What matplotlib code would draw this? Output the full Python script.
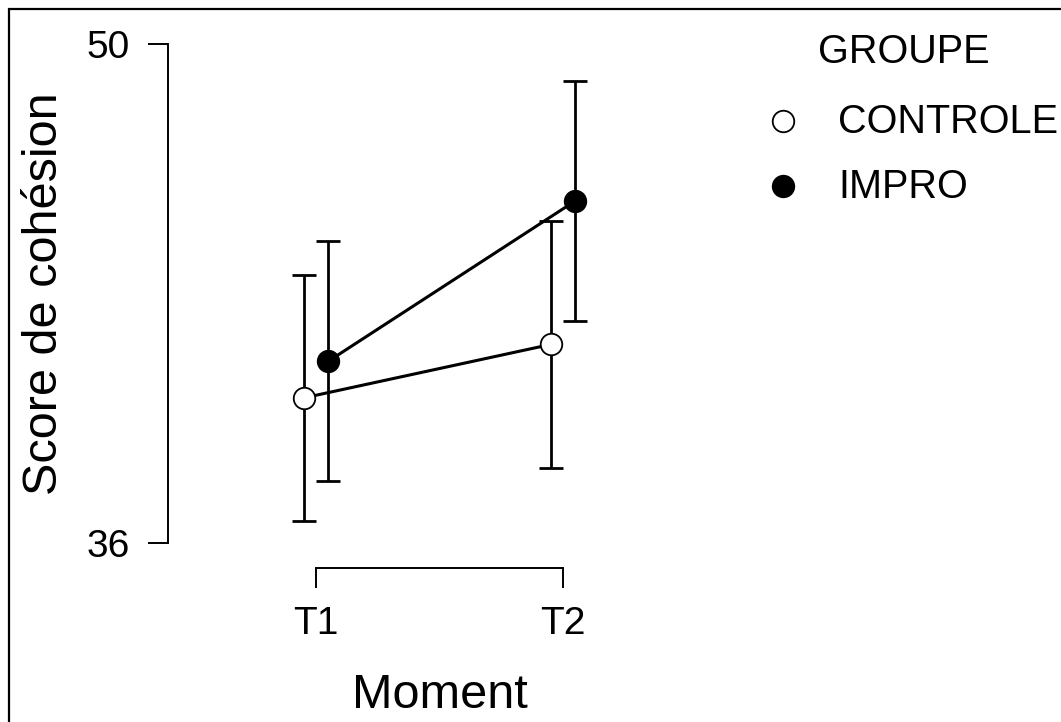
import matplotlib.pyplot as plt
from matplotlib.patches import Rectangle
from matplotlib.lines import Line2D

plt.rcParams["font.family"] = ["Liberation Sans", "DejaVu Sans"]

moments = ["T1", "T2"]
groups = ["CONTROLE", "IMPRO"]
means = {
    "CONTROLE": [40.07, 41.57],
    "IMPRO": [41.10, 45.60],
}
errors = {
    "CONTROLE": [3.46, 3.47],
    "IMPRO": [3.36, 3.37],
}
faces = {"CONTROLE": "white", "IMPRO": "black"}
dodge = {"CONTROLE": -0.05, "IMPRO": 0.05}

W, H = 1061, 722
fig = plt.figure(figsize=(W / 100, H / 100), dpi=100)

# axes box in pixels (left, top, right, bottom)
left, top, right, bottom = 168, 20, 711, 568
ax = fig.add_axes([left / W, 1 - bottom / H, (right - left) / W, (bottom - top) / H])

xs = list(range(len(moments)))
for g in groups:
    gx = [x + dodge[g] for x in xs]
    ax.errorbar(gx, means[g], yerr=errors[g], fmt="none", ecolor="black",
                elinewidth=2.0, capsize=8.5, capthick=2.0, zorder=2)
    ax.plot(gx, means[g], color="black", lw=2.2, marker="o", markersize=15.5,
            markerfacecolor=faces[g], markeredgecolor="black", markeredgewidth=1.3, zorder=3)

# limits so that T1/T2 and 36/50 land where the reference puts them
px_x = 247.0
ax.set_xlim(-(316 - left) / px_x, 1 + (right - 563) / px_x)
px_y = (543 - 44) / 14.0
ax.set_ylim(36 - (bottom - 543) / px_y, 50 + (44 - top) / px_y)

ax.set_xticks(xs, moments)
ax.set_yticks([36, 50], ["36", "50"])
for s in ["top", "right"]:
    ax.spines[s].set_visible(False)
ax.spines["left"].set_bounds(36, 50)
ax.spines["bottom"].set_bounds(0, 1)
for s in ["left", "bottom"]:
    ax.spines[s].set_linewidth(1.4)
ax.tick_params(axis="both", length=14.5, width=1.4, labelsize=28, pad=13)
ax.set_xlabel("Moment", fontsize=35, labelpad=22)
ax.set_ylabel("Score de cohésion", fontsize=35, labelpad=14)
ax.patch.set_visible(False)

# legend drawn by hand
fig.text(818 / W, 1 - 63 / H, "GROUPE", fontsize=28.5, va="baseline", ha="left")
for i, g in enumerate(groups):
    base = 133 + 65 * i
    fig.text(838 / W, 1 - base / H, g, fontsize=28.5, va="baseline", ha="left")
    fig.add_artist(Line2D([783 / W], [1 - (base - 12) / H], transform=fig.transFigure,
                          marker="o", markersize=15.5, markerfacecolor=faces[g],
                          markeredgecolor="black", markeredgewidth=1.3, linestyle="none"))

# outer frame (runs off the right and bottom edges)
fig.add_artist(Rectangle((9 / W, -0.1), 1.2, 1.1 - 9 / H, transform=fig.transFigure,
                         fill=False, edgecolor="black", linewidth=1.6))

fig.savefig("out.png", dpi=100)
